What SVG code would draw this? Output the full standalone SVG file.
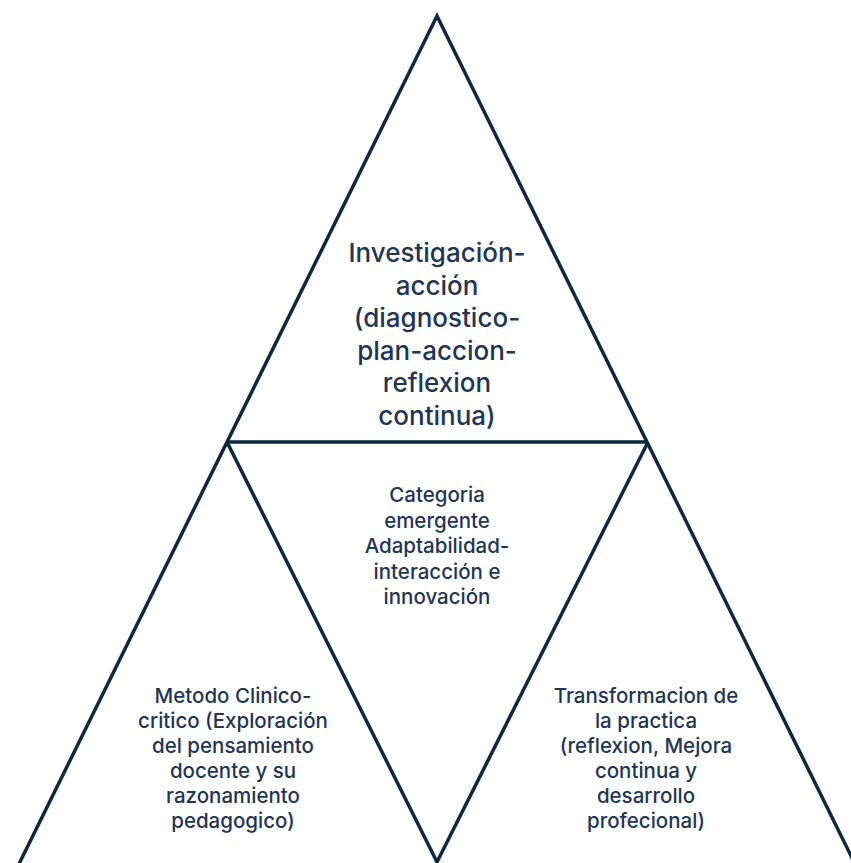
<svg xmlns="http://www.w3.org/2000/svg" width="851" height="863" viewBox="0 0 851 863">
<style>
.ln{fill:none;stroke:#0e2841;stroke-width:3.5;stroke-linejoin:miter}
text{font-family:Inter,"Open Sans","Liberation Sans",sans-serif;font-weight:500;fill:#1f3554;text-anchor:middle}
.big{font-size:26px}
.mid{font-size:20.5px}
.sm{font-size:20.5px}
</style>
<rect width="851" height="863" fill="#ffffff"/>
<g id="connectors">
<path class="ln" d="M18,866 L437,16 L856,866"/>
<path class="ln" d="M227,442 L648,442"/>
<path class="ln" d="M227,442 L437,862 L648,442"/>
</g>
<g id="top">
<text class="big" x="437" y="262">Investigación-</text>
<text class="big" x="437" y="294.5">acción</text>
<text class="big" x="437" y="327">(diagnostico-</text>
<text class="big" x="437" y="359.5">plan-accion-</text>
<text class="big" x="437" y="392">reflexion</text>
<text class="big" x="437" y="424.5">continua)</text>
</g>
<g id="center">
<text class="mid" x="437" y="502">Categoria</text>
<text class="mid" x="437" y="527.5">emergente</text>
<text class="mid" x="437" y="553">Adaptabilidad-</text>
<text class="mid" x="437" y="578.5">interacción e</text>
<text class="mid" x="437" y="604">innovación</text>
</g>
<g id="left">
<text class="sm" x="233" y="703">Metodo Clinico-</text>
<text class="sm" x="233" y="728">critico (Exploración</text>
<text class="sm" x="233" y="753">del pensamiento</text>
<text class="sm" x="233" y="778">docente y su</text>
<text class="sm" x="233" y="803">razonamiento</text>
<text class="sm" x="233" y="828">pedagogico)</text>
</g>
<g id="right">
<text class="sm" x="646" y="703">Transformacion de</text>
<text class="sm" x="646" y="728">la practica</text>
<text class="sm" x="646" y="753">(reflexion, Mejora</text>
<text class="sm" x="646" y="778">continua y</text>
<text class="sm" x="646" y="803">desarrollo</text>
<text class="sm" x="646" y="828">profecional)</text>
</g>
</svg>
